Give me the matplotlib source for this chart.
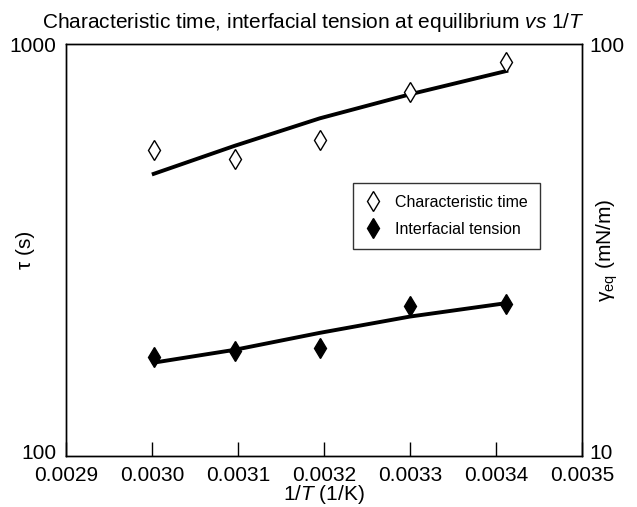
import numpy as np
import matplotlib
matplotlib.use('Agg')
import matplotlib.pyplot as plt
import matplotlib.transforms as mtransforms

plt.rcParams['font.family'] = ['Liberation Sans', 'DejaVu Sans']
plt.rcParams['mathtext.fontset'] = 'custom'
plt.rcParams['mathtext.rm'] = 'Liberation Sans'
plt.rcParams['mathtext.it'] = 'Liberation Sans:italic'

# data
invT = [0.003002, 0.003096, 0.003195, 0.003300, 0.003412]
tau = [553, 525, 585, 766, 906]
tauFit = [484, 566, 660, 755, 860]
gammaEq = [17.4, 18.0, 18.3, 23.1, 23.4]
gammaFit = [16.85, 18.1, 19.9, 21.8, 23.5]

xTicks = [0.0029, 0.0030, 0.0031, 0.0032, 0.0033, 0.0034, 0.0035]

fs = 15

fig = plt.figure(figsize=(6.37, 5.07), dpi=100)
ax = fig.add_axes([0.1036, 0.1006, 0.8101, 0.8126])
ax2 = ax.twinx()

ax.plot(invT, tauFit, color='black', linewidth=2.8, zorder=2)
ax.plot(invT, tau, linestyle='none', marker='d', markersize=10, markerfacecolor='white',
        markeredgecolor='black', markeredgewidth=1.0, label='Characteristic time', zorder=3)
ax2.plot(invT, gammaFit, color='black', linewidth=2.8, zorder=2)
ax2.plot(invT, gammaEq, linestyle='none', marker='d', markersize=10, markerfacecolor='black',
         markeredgecolor='black', label='Interfacial tension', zorder=3)

ax.set_yscale('log')
ax2.set_yscale('log')
ax.set_ylim(100, 1000)
ax2.set_ylim(10, 100)
ax.set_xlim(0.0029, 0.0035)

ax.set_xticks(xTicks)
ax.set_xticklabels(['%.4f' % v for v in xTicks])
ax.set_yticks([100, 1000])
ax.set_yticklabels(['100', '1000'])
ax2.set_yticks([10, 100])
ax2.set_yticklabels(['10', '100'])
ax.yaxis.set_minor_locator(matplotlib.ticker.NullLocator())
ax2.yaxis.set_minor_locator(matplotlib.ticker.NullLocator())

ax.tick_params(axis='x', direction='in', length=10, width=1, labelsize=fs, pad=7)
ax.tick_params(axis='y', length=0, labelsize=fs, pad=7)
ax2.tick_params(axis='y', length=0, labelsize=fs, pad=5)

# nudge the bottom y labels up so they clear the x labels
lift = mtransforms.ScaledTranslation(0, 3 / 72, fig.dpi_scale_trans)
for a in (ax, ax2):
    lbl = a.get_yticklabels()
    lbl[0].set_transform(lbl[0].get_transform() + lift)

for a in (ax, ax2):
    for s in a.spines.values():
        s.set_linewidth(1.0)
        s.set_color('black')

ax.set_xlabel('1/$\\it{T}$ (1/K)', fontsize=fs, labelpad=-1)
ax.set_ylabel('τ (s)', fontsize=fs)
ax.yaxis.set_label_coords(-0.06, 0.5)
ax2.set_ylabel('γ$_{\\mathrm{eq}}$ (mN/m)', fontsize=fs)
ax2.yaxis.set_label_coords(1.025, 0.5)

fig.text(0.492, 0.955, 'Characteristic time, interfacial tension at equilibrium $\\it{vs}$ 1/$\\it{T}$',
         fontsize=fs, ha='center', va='center')

h1, l1 = ax.get_legend_handles_labels()
h2, l2 = ax2.get_legend_handles_labels()
leg = ax2.legend(h1 + h2, l1 + l2, loc='upper left', bbox_to_anchor=(0.556, 0.663),
                 fontsize=11.5, frameon=True, fancybox=False, edgecolor='black',
                 handlelength=1.0, handletextpad=0.9, borderpad=0.75, labelspacing=0.75,
                 borderaxespad=0)
leg.get_frame().set_linewidth(1.0)

fig.savefig('out.png', dpi=100)
